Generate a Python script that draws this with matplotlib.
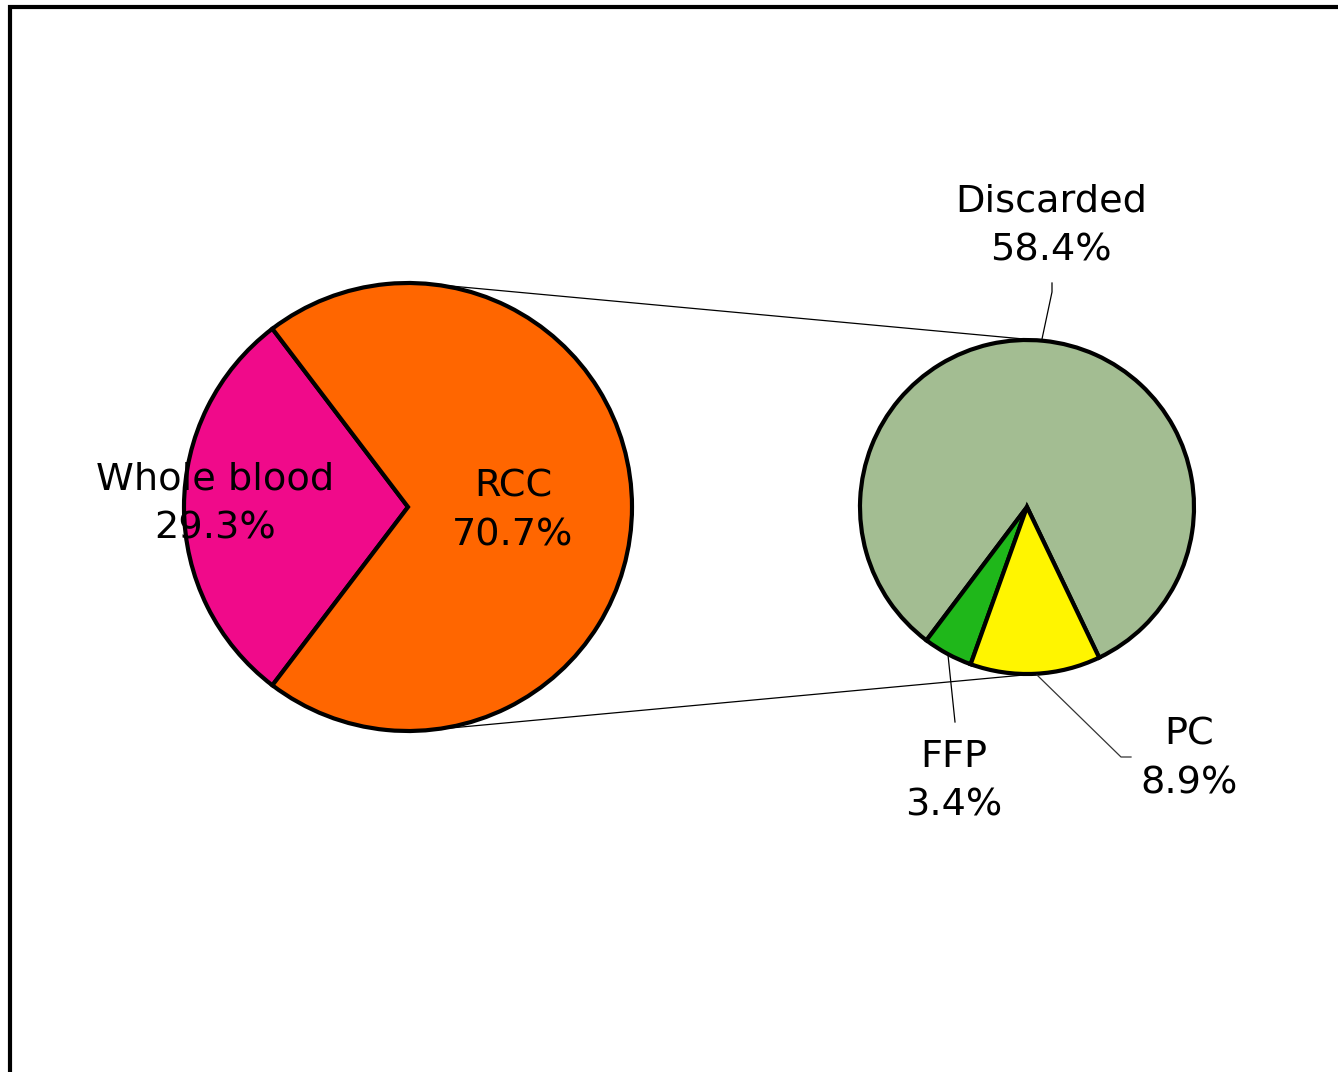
import matplotlib
matplotlib.use('Agg')
import matplotlib.pyplot as plt
import numpy as np
from matplotlib.patches import Rectangle

# blood product usage
main_labels = ['Whole blood', 'RCC']
main_values = [29.3, 70.7]
main_colors = ['#F00A8A', '#FF6600']

# breakdown of the RCC share
sub_labels = ['Discarded', 'FFP', 'PC']
sub_values = [58.4, 3.4, 8.9]
sub_colors = ['#A3BD92', '#1FB71A', '#FFF500']

W, H = 1338, 1072
fig = plt.figure(figsize=(W / 100, H / 100), dpi=100)
ax = fig.add_axes([0, 0, 1, 1])

# outer frame (runs off the right and bottom edges)
ax.add_patch(Rectangle((9.5, -20), W + 40, H - 6.5 + 20, fill=False, lw=3, ec='black'))

c1, r1 = (408, H - 507), 224
c2, r2 = (1027, H - 507), 167
edge = dict(edgecolor='black', linewidth=3)

ax.pie(main_values, colors=main_colors, center=c1, radius=r1, counterclock=True,
       startangle=180 - main_values[0] / 100 * 180, wedgeprops=edge, frame=True)

sub_start = 295.6 - 360
ax.pie(sub_values, colors=sub_colors, center=c2, radius=r2, counterclock=True,
       startangle=sub_start, wedgeprops=edge, frame=True)
ax.set_xlim(0, W)
ax.set_ylim(0, H)
ax.set_aspect('equal')
ax.axis('off')


def on_circle(c, r, deg):
    a = np.deg2rad(deg)
    return c[0] + r * np.cos(a), c[1] + r * np.sin(a)


# connector lines between the two pies
for a1, a2 in [(84.4, 85.5), (-84.3, -85.5)]:
    p1 = on_circle(c1, r1, a1)
    p2 = on_circle(c2, r2, a2)
    ax.plot([p1[0], p2[0]], [p1[1], p2[1]], color='black', lw=0.9)

fs = 27.5
ls = 1.45
ax.text(215, H - 504, f'{main_labels[0]}\n{main_values[0]}%', ha='center', va='center',
        fontsize=fs, linespacing=ls)
ax.text(513, H - 511, f'{main_labels[1]}\n{main_values[1]}%', ha='center', va='center',
        fontsize=fs, linespacing=ls)

# sub-pie labels with leader lines
ax.text(1051, H - 226, f'{sub_labels[0]}\n{sub_values[0]}%', ha='center', va='center',
        fontsize=fs, linespacing=ls)
ax.plot([1052, 1052, 1042], [H - 283, H - 292, H - 339], color='black', lw=0.9)

ax.text(954, H - 781, f'{sub_labels[1]}\n{sub_values[1]}%', ha='center', va='center',
        fontsize=fs, linespacing=ls)
ax.plot([948, 955], [H - 655, H - 722], color='black', lw=0.9)

ax.text(1189, H - 759, f'{sub_labels[2]}\n{sub_values[2]}%', ha='center', va='center',
        fontsize=fs, linespacing=ls)
ax.plot([1037, 1121, 1131], [H - 675, H - 757, H - 757], color='#333333', lw=0.9)

fig.savefig('out.png', dpi=100, facecolor='white')
